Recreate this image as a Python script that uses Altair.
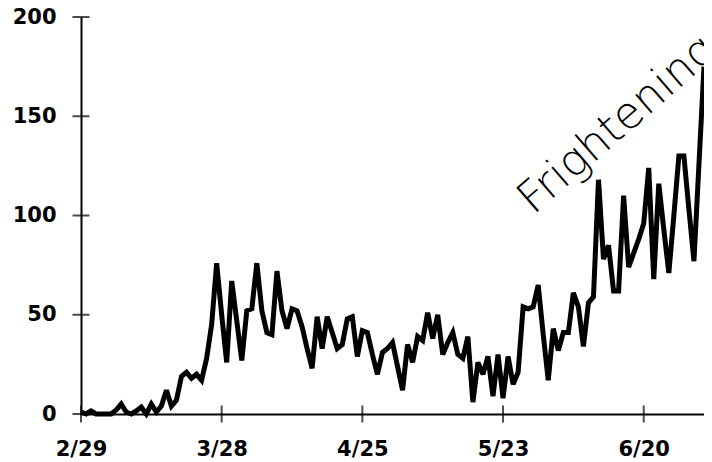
import altair as alt
import pandas as pd

# Daily values (2/29 onward)
values = [
    1, 0, 1.5, 0, 0, 0, 0, 2, 5, 1,
    0, 1.5, 3.5, 0, 5, 1, 4, 12, 4, 7,
    19, 21, 18, 20, 17, 28, 45, 76, 50, 26,
    67, 47, 27, 52, 53, 76, 52, 41, 40, 72,
    52, 43, 53, 52, 44, 33, 23, 49, 33, 49,
    41, 33, 35, 48, 49, 29, 42, 41, 30, 20,
    31, 33, 36, 24, 12, 35, 26, 39, 37, 51,
    38, 50, 30, 36, 41, 30, 28, 39, 6, 26,
    20, 29, 9, 30, 8, 29, 15, 21, 54, 53,
    54, 65, 40, 17, 43, 32, 41, 41, 61, 54,
    34, 56, 59, 118, 78, 85, 62, 62, 110, 74,
    81, 88, 96, 124, 68, 116, 93, 71, 100, 130,
    130, 103, 77, 126, 175,
]
start_date = "2020-02-29"
end_date = "2020-07-02"

x_tick_dates = ["2020-02-29", "2020-03-28", "2020-04-25", "2020-05-23", "2020-06-20"]
y_tick_values = [0, 50, 100, 150, 200]

note_text = ["Frightening"]
note_date = ["2020-05-29"]
note_value = [100]

dates = pd.date_range(start_date, periods=len(values), freq="D").strftime("%Y-%m-%d")
df = pd.DataFrame({"date": dates, "value": values})
xt = pd.DataFrame({"date": x_tick_dates})
yt = pd.DataFrame({"value": y_tick_values})
note = pd.DataFrame({"date": note_date, "value": note_value, "text": note_text})

FONT = "DejaVu Sans"

x_scale = alt.Scale(type="utc", domain=[start_date, end_date], nice=False)
y_scale = alt.Scale(domain=[0, 200], nice=False, zero=True)

x_axis = alt.Axis(
    values=x_tick_dates,
    format="%-m/%-d",
    formatType="time",
    title=None,
    grid=False,
    ticks=False,
    domainColor="black",
    domainWidth=2,
    labelFont=FONT,
    labelFontWeight="bold",
    labelFontSize=21,
    labelColor="black",
    labelPadding=24,
    labelFlush=False,
    labelOverlap=False,
)
y_axis = alt.Axis(
    values=y_tick_values,
    title=None,
    grid=False,
    ticks=False,
    domainColor="black",
    domainWidth=2,
    labelFont=FONT,
    labelFontWeight="bold",
    labelFontSize=21,
    labelColor="black",
    labelPadding=25,
    labelFlush=False,
    labelOverlap=False,
)

line = alt.Chart(df).mark_line(color="black", strokeWidth=5, strokeJoin="miter", strokeMiterLimit=3).encode(
    x=alt.X("date:T", scale=x_scale, axis=x_axis),
    y=alt.Y("value:Q", scale=y_scale, axis=y_axis),
)

xticks = alt.Chart(xt).mark_tick(orient="vertical", size=17, thickness=2, color="black").encode(
    x=alt.X("date:T", scale=x_scale, axis=x_axis),
    y=alt.value(397),
)

yticks = alt.Chart(yt).mark_tick(orient="horizontal", size=17, thickness=2, color="black").encode(
    y=alt.Y("value:Q", scale=y_scale, axis=y_axis),
    x=alt.value(0),
)

text = alt.Chart(note).mark_text(
    font="DejaVu Sans", fontWeight=200, fontSize=44, angle=319, align="left",
    baseline="alphabetic", color="black",
).encode(
    x=alt.X("date:T", scale=x_scale, axis=x_axis),
    y=alt.Y("value:Q", scale=y_scale, axis=y_axis),
    text="text:N",
)

chart = alt.layer(line, xticks, yticks, text).properties(
    width=623,
    height=397,
    autosize=alt.AutoSizeParams(type="none"),
    padding={"left": 73, "top": 9, "right": 0, "bottom": 48},
    background="white",
).configure_view(stroke=None)

chart.save("out.html", embed_options={"renderer": "svg", "actions": False})
